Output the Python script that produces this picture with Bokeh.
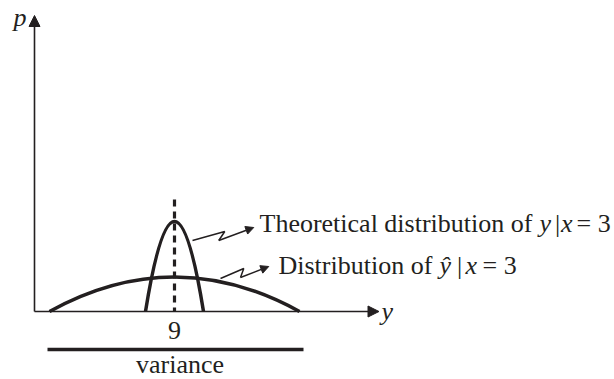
from bokeh.plotting import figure
from bokeh.models import Range1d, Arrow, NormalHead
from bokeh.core.properties import value
from bokeh.embed import file_html
from bokeh.resources import INLINE

INK = "#231f20"
SERIF = "Liberation Serif"
FONT_SIZE = "26px"

# Two distributions centred on the same mean, y = 9 at x = 3
center = 9
narrow_half_width = 1.16   # theoretical distribution of y | x = 3
narrow_peak = 0.90
wide_half_width = 5.0      # distribution of y-hat | x = 3
wide_peak = 0.345
dash_top = 1.12

# Axes (origin, arrow tips)
origin_x, origin_y = 3.40, 0.0
x_axis_tip = 17.18
y_axis_tip = 2.96

# Variance bar below the tick label
variance_x = [3.92, 14.16]
variance_y = -0.38

# Zig-zag callouts from each curve to its caption
callout_theory_x = [9.72, 11.01, 10.77, 12.17]
callout_theory_y = [0.71, 0.80, 0.71, 0.84]
callout_hat_x = [10.84, 11.77, 11.64, 12.77]
callout_hat_y = [0.33, 0.43, 0.34, 0.45]

p = figure(width=614, height=379, output_backend="svg", toolbar_location=None,
           x_range=Range1d(2.04, 26.6), y_range=Range1d(-0.68, 3.11),
           min_border=0, background_fill_color="white", border_fill_color="white")
p.axis.visible = False
p.grid.visible = False
p.outline_line_color = None

# Axes with arrow heads
p.add_layout(Arrow(x_start=origin_x, y_start=origin_y, x_end=x_axis_tip, y_end=origin_y,
                   line_color=INK, line_width=1.6,
                   end=NormalHead(size=11, fill_color=INK, line_color=INK, line_width=1)))
p.add_layout(Arrow(x_start=origin_x, y_start=origin_y, x_end=origin_x, y_end=y_axis_tip,
                   line_color=INK, line_width=1.6,
                   end=NormalHead(size=11, fill_color=INK, line_color=INK, line_width=1)))

# Parabolic humps drawn as quadratic Bezier curves (control point at twice the peak)
p.quadratic(x0=[center - narrow_half_width, center - wide_half_width],
            y0=[0, 0],
            x1=[center + narrow_half_width, center + wide_half_width],
            y1=[0, 0],
            cx=[center, center],
            cy=[2 * narrow_peak, 2 * wide_peak],
            line_color=INK, line_width=3.5)

# Dashed line at the mean
p.segment(x0=[center], y0=[dash_top], x1=[center], y1=[0],
          line_color=INK, line_width=3.2, line_dash="7 5")

# Callouts
for xs, ys in ((callout_theory_x, callout_theory_y), (callout_hat_x, callout_hat_y)):
    p.line(xs[:-1], ys[:-1], line_color=INK, line_width=1.5)
    p.add_layout(Arrow(x_start=xs[-2], y_start=ys[-2], x_end=xs[-1], y_end=ys[-1],
                       line_color=INK, line_width=1.5,
                       end=NormalHead(size=8, fill_color=INK, line_color=INK, line_width=1)))

# Variance bar
p.segment(x0=[variance_x[0]], y0=[variance_y], x1=[variance_x[1]], y1=[variance_y],
          line_color=INK, line_width=3.5)

def put(xs, ys, texts, style="normal", align="left"):
    p.text(x=xs, y=ys, text=texts, text_font=value(SERIF), text_font_size=FONT_SIZE,
           text_font_style=style, text_align=align, text_baseline="alphabetic",
           text_color=INK)

# Axis names
put([2.56, 17.28], [2.94, 0.0], ["p", "y"], style="italic")

# Tick label and variance caption
put([center], [-0.19], ["9"], align="center")
put([9.22], [-0.53], ["variance"], align="center")

# Caption 1: Theoretical distribution of y|x = 3
line1 = 0.88
put([12.40, 24.22, 25.08], [line1, line1, line1],
    ["Theoretical distribution of", "|", "= 3"])
put([23.60, 24.46], [line1, line1], ["y", "x"], style="italic")

# Caption 2: Distribution of ŷ|x = 3
line2 = 0.46
put([13.16, 20.30, 21.32], [line2, line2, line2],
    ["Distribution of", "|", "= 3"])
put([19.60, 20.64], [line2, line2], ["ŷ", "x"], style="italic")

open("out.html", "w").write(file_html(p, INLINE))
